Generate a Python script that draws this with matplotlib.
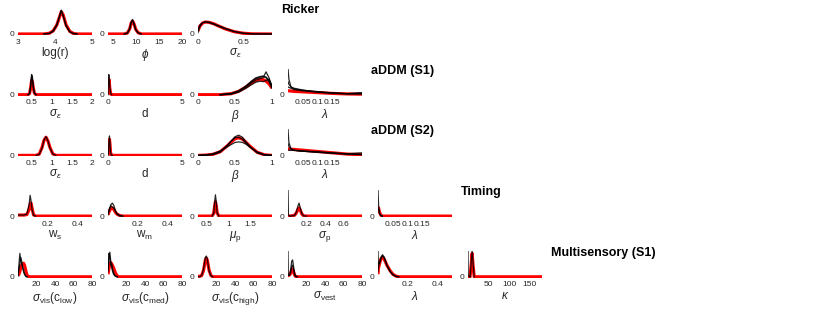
import numpy as np
import matplotlib
matplotlib.use("Agg")
import matplotlib.pyplot as plt

plt.rcParams['font.family'] = ['Liberation Sans', 'DejaVu Sans']
plt.rcParams['mathtext.fontset'] = 'custom'
plt.rcParams['mathtext.rm'] = 'Liberation Sans'
plt.rcParams['mathtext.it'] = 'Liberation Sans:italic'
plt.rcParams['mathtext.bf'] = 'Liberation Sans:bold'

# ---- data: densities (y scaled so the panel top = 1) ----
# Ricker
logr_x = [3, 3.7, 3.85, 3.95, 4.05, 4.12, 4.17, 4.22, 4.3, 4.4, 4.5, 4.6, 5]
logr_red = [0, 0, 0.03, 0.12, 0.35, 0.65, 0.86, 0.74, 0.35, 0.1, 0.02, 0, 0]
logr_black = [[0, 0, 0.02, 0.1, 0.33, 0.66, 0.92, 0.72, 0.3, 0.08, 0.01, 0, 0],
              [0, 0, 0.03, 0.13, 0.37, 0.68, 0.9, 0.7, 0.32, 0.09, 0.02, 0, 0]]

phi_x = [4, 7.5, 8.2, 8.7, 9.0, 9.3, 9.6, 10.0, 10.5, 11.2, 20]
phi_red = [0, 0, 0.04, 0.2, 0.42, 0.5, 0.4, 0.18, 0.05, 0, 0]
phi_black = [[0, 0, 0.03, 0.2, 0.45, 0.56, 0.42, 0.17, 0.04, 0, 0],
             [0, 0, 0.04, 0.22, 0.44, 0.52, 0.38, 0.16, 0.05, 0, 0]]

sige_x = [0, 0.02, 0.05, 0.08, 0.12, 0.17, 0.22, 0.3, 0.4, 0.5, 0.6, 0.82]
sige_red = [0.12, 0.3, 0.42, 0.46, 0.45, 0.4, 0.32, 0.2, 0.09, 0.03, 0.005, 0]
sige_black = [[0.05, 0.28, 0.42, 0.47, 0.46, 0.4, 0.33, 0.22, 0.1, 0.03, 0.005, 0],
              [0.15, 0.34, 0.44, 0.46, 0.44, 0.38, 0.31, 0.2, 0.09, 0.03, 0.005, 0]]

# aDDM (S1)
s1_sig_x = [0.15, 0.4, 0.44, 0.47, 0.49, 0.51, 0.53, 0.56, 0.6, 2]
s1_sig_red = [0, 0, 0.05, 0.3, 0.55, 0.5, 0.28, 0.06, 0, 0]
s1_sig_black = [[0, 0, 0.05, 0.4, 0.75, 0.7, 0.35, 0.06, 0, 0],
                [0, 0, 0.04, 0.35, 0.78, 0.6, 0.3, 0.05, 0, 0]]

s1_d_x = [0, 0.02, 0.05, 0.08, 0.12, 0.18, 0.25, 5]
s1_d_red = [0, 0.3, 0.6, 0.55, 0.25, 0.03, 0, 0]
s1_d_black = [[0, 0.35, 0.78, 0.7, 0.3, 0.05, 0, 0]]

s1_beta_x = [0, 0.3, 0.45, 0.55, 0.65, 0.72, 0.78, 0.84, 0.88, 0.92, 0.96, 1.0]
s1_beta_red = [0, 0, 0.04, 0.13, 0.3, 0.45, 0.55, 0.6, 0.58, 0.52, 0.42, 0.25]
s1_beta_black = [[0, 0, 0.03, 0.12, 0.32, 0.5, 0.62, 0.68, 0.7, 0.65, 0.5, 0.28],
                 [0, 0, 0.04, 0.14, 0.3, 0.45, 0.56, 0.62, 0.66, 0.88, 0.65, 0.3],
                 [0, 0, 0.03, 0.1, 0.25, 0.38, 0.48, 0.52, 0.5, 0.55, 0.6, 0.35],
                 [0, 0, 0.05, 0.15, 0.34, 0.52, 0.65, 0.7, 0.72, 0.68, 0.55, 0.25]]

lam_x = [0, 0.003, 0.01, 0.02, 0.05, 0.1, 0.15, 0.2, 0.25]
s1_lam_red = [0.15, 0.15, 0.14, 0.13, 0.11, 0.08, 0.05, 0.03, 0.02]
s1_lam_black = [[1.0, 0.6, 0.3, 0.22, 0.17, 0.12, 0.07, 0.04, 0.05],
                [0.5, 0.4, 0.3, 0.25, 0.18, 0.1, 0.06, 0.04, 0.08],
                [0.3, 0.28, 0.25, 0.2, 0.15, 0.1, 0.06, 0.03, 0.02]]

# aDDM (S2)
s2_sig_x = [0.15, 0.6, 0.68, 0.75, 0.8, 0.85, 0.9, 0.95, 1.02, 1.1, 2]
s2_sig_red = [0, 0, 0.05, 0.3, 0.58, 0.7, 0.55, 0.3, 0.06, 0, 0]
s2_sig_black = [[0, 0, 0.04, 0.28, 0.6, 0.72, 0.56, 0.28, 0.05, 0, 0]]

s2_d_x = [0, 0.03, 0.07, 0.1, 0.13, 0.17, 0.22, 0.3, 5]
s2_d_red = [0, 0.1, 0.5, 0.62, 0.45, 0.12, 0.01, 0, 0]
s2_d_black = [[0, 0.12, 0.6, 0.75, 0.5, 0.12, 0.01, 0, 0]]

s2_beta_x = [0, 0.1, 0.2, 0.3, 0.4, 0.45, 0.5, 0.55, 0.6, 0.65, 0.7, 0.8, 0.9, 1]
s2_beta_red = [0, 0.01, 0.04, 0.14, 0.38, 0.52, 0.64, 0.68, 0.63, 0.5, 0.36, 0.12, 0.02, 0]
s2_beta_black = [[0, 0.01, 0.03, 0.12, 0.38, 0.56, 0.72, 0.78, 0.7, 0.52, 0.34, 0.1, 0.01, 0],
                 [0, 0.02, 0.06, 0.17, 0.34, 0.42, 0.5, 0.52, 0.5, 0.43, 0.33, 0.13, 0.03, 0],
                 [0, 0.01, 0.04, 0.15, 0.4, 0.55, 0.68, 0.7, 0.62, 0.48, 0.33, 0.11, 0.02, 0]]

s2_lam_red = [0.25, 0.25, 0.24, 0.23, 0.2, 0.15, 0.1, 0.05, 0.03]
s2_lam_black = [[1.0, 0.5, 0.25, 0.2, 0.17, 0.14, 0.1, 0.06, 0.04],
                [0.45, 0.35, 0.25, 0.2, 0.16, 0.12, 0.08, 0.06, 0.1],
                [0.2, 0.2, 0.2, 0.19, 0.16, 0.13, 0.09, 0.05, 0.03]]

# Timing
ws_x = [0, 0.04, 0.06, 0.075, 0.082, 0.088, 0.095, 0.105, 0.12, 0.5]
ws_red = [0.04, 0.04, 0.06, 0.25, 0.45, 0.5, 0.3, 0.05, 0, 0]
ws_black = [[0.04, 0.04, 0.08, 0.45, 0.8, 0.6, 0.25, 0.03, 0, 0]]

wm_x = [0, 0.01, 0.02, 0.03, 0.04, 0.05, 0.06, 0.08, 0.1, 0.5]
wm_red = [0.05, 0.2, 0.3, 0.3, 0.25, 0.15, 0.08, 0.02, 0, 0]
wm_black = [[0.1, 0.3, 0.45, 0.5, 0.4, 0.2, 0.08, 0.01, 0, 0],
            [0.05, 0.25, 0.4, 0.35, 0.3, 0.2, 0.1, 0.02, 0, 0]]

mup_x = [0.3, 0.62, 0.66, 0.68, 0.7, 0.72, 0.74, 0.78, 2]
mup_red = [0, 0, 0.1, 0.35, 0.55, 0.4, 0.12, 0, 0]
mup_black = [[0, 0, 0.1, 0.5, 0.82, 0.55, 0.12, 0, 0]]

sigp_x = [0, 0.005, 0.02, 0.07, 0.09, 0.11, 0.12, 0.13, 0.15, 0.17, 0.2, 0.8]
sigp_red = [0, 0, 0, 0.03, 0.12, 0.28, 0.32, 0.25, 0.08, 0.01, 0, 0]
sigp_black = [[0, 0, 0, 0.02, 0.15, 0.42, 0.5, 0.35, 0.1, 0.01, 0, 0],
              [1.0, 0.05, 0, 0, 0, 0, 0, 0, 0, 0, 0, 0]]

tlam_x = [0, 0.002, 0.005, 0.01, 0.015, 0.02, 0.25]
tlam_red = [0.35, 0.3, 0.15, 0.03, 0, 0, 0]
tlam_black = [[1.0, 0.4, 0.1, 0.01, 0, 0, 0],
              [0.3, 0.25, 0.12, 0.02, 0, 0, 0]]

# Multisensory (S1)
vlow_x = [0, 1, 2, 3, 4, 5, 6, 7, 8, 9, 10, 12, 80]
vlow_red = [0.05, 0.1, 0.2, 0.35, 0.45, 0.5, 0.52, 0.45, 0.3, 0.15, 0.05, 0, 0]
vlow_black = [[0.05, 0.45, 0.9, 0.6, 0.5, 0.35, 0.2, 0.1, 0.04, 0.01, 0, 0, 0],
              [0.03, 0.3, 0.5, 0.75, 0.6, 0.4, 0.25, 0.12, 0.05, 0, 0, 0, 0]]

vmed_x = [0, 1, 2, 3, 4, 5, 6, 7, 8, 10, 12, 80]
vmed_red = [0.1, 0.3, 0.5, 0.55, 0.5, 0.42, 0.35, 0.25, 0.15, 0.03, 0, 0]
vmed_black = [[0.3, 0.9, 0.7, 0.45, 0.5, 0.3, 0.15, 0.08, 0.03, 0, 0, 0],
              [0.2, 0.7, 0.95, 0.6, 0.35, 0.2, 0.1, 0.05, 0.02, 0, 0, 0]]

vhigh_x = [0, 2, 4, 6, 7, 8, 9, 10, 11, 12, 14, 16, 80]
vhigh_red = [0.02, 0.02, 0.05, 0.25, 0.45, 0.65, 0.72, 0.65, 0.45, 0.25, 0.05, 0, 0]
vhigh_black = [[0, 0.01, 0.05, 0.3, 0.55, 0.75, 0.8, 0.7, 0.45, 0.22, 0.04, 0, 0]]

vest_x = [0, 0.3, 1, 2, 3, 4, 5, 6, 7, 8, 10, 80]
vest_red = [0.05, 0.05, 0.06, 0.08, 0.15, 0.28, 0.3, 0.2, 0.08, 0.02, 0, 0]
vest_black = [[0.05, 0.05, 0.06, 0.1, 0.3, 0.6, 0.65, 0.4, 0.15, 0.03, 0, 0],
              [1.0, 0.1, 0.05, 0.08, 0.2, 0.4, 0.45, 0.3, 0.1, 0.02, 0, 0]]

mlam_x = [0, 0.002, 0.01, 0.02, 0.03, 0.04, 0.05, 0.06, 0.08, 0.1, 0.12, 0.14, 0.5]
mlam_red = [0.1, 0.3, 0.5, 0.7, 0.75, 0.7, 0.58, 0.45, 0.25, 0.1, 0.03, 0, 0]
mlam_black = [[0.2, 0.35, 0.55, 0.75, 0.85, 0.78, 0.62, 0.45, 0.22, 0.08, 0.02, 0, 0],
              [1.0, 0.5, 0.5, 0.7, 0.8, 0.75, 0.6, 0.45, 0.23, 0.09, 0.02, 0, 0]]

kappa_x = [0, 0.5, 5, 8, 10, 12, 15, 180]
kappa_red = [0, 0, 0, 0.5, 0.9, 0.5, 0, 0]
kappa_black = [[0, 0, 0, 0.6, 1.0, 0.6, 0, 0],
               [1.0, 0.05, 0, 0, 0, 0, 0, 0]]

row_titles = ['Ricker', 'aDDM (S1)', 'aDDM (S2)', 'Timing', 'Multisensory (S1)']

# panel: (x, red, blacks, xlim, xticks, xticklabels, xlabel)
rows = [
    [(logr_x, logr_red, logr_black, (3, 5), [3, 4, 5], ['3', '4', '5'], 'log(r)'),
     (phi_x, phi_red, phi_black, (4, 20), [5, 10, 15, 20], ['5', '10', '15', '20'], r'$\phi$'),
     (sige_x, sige_red, sige_black, (0, 0.82), [0, 0.5], ['0', '0.5'], r'$\sigma_\epsilon$')],
    [(s1_sig_x, s1_sig_red, s1_sig_black, (0.15, 2), [0.5, 1, 1.5, 2], ['0.5', '1', '1.5', '2'], r'$\sigma_\epsilon$'),
     (s1_d_x, s1_d_red, s1_d_black, (0, 5), [0, 5], ['0', '5'], 'd'),
     (s1_beta_x, s1_beta_red, s1_beta_black, (0, 1), [0, 0.5, 1], ['0', '0.5', '1'], r'$\beta$'),
     (lam_x, s1_lam_red, s1_lam_black, (0, 0.25), [0.05, 0.1, 0.15], ['0.05', '0.1', '0.15'], r'$\lambda$')],
    [(s2_sig_x, s2_sig_red, s2_sig_black, (0.15, 2), [0.5, 1, 1.5, 2], ['0.5', '1', '1.5', '2'], r'$\sigma_\epsilon$'),
     (s2_d_x, s2_d_red, s2_d_black, (0, 5), [0, 5], ['0', '5'], 'd'),
     (s2_beta_x, s2_beta_red, s2_beta_black, (0, 1), [0, 0.5, 1], ['0', '0.5', '1'], r'$\beta$'),
     (lam_x, s2_lam_red, s2_lam_black, (0, 0.25), [0.05, 0.1, 0.15], ['0.05', '0.1', '0.15'], r'$\lambda$')],
    [(ws_x, ws_red, ws_black, (0, 0.5), [0.2, 0.4], ['0.2', '0.4'], r'w$_\mathregular{s}$'),
     (wm_x, wm_red, wm_black, (0, 0.5), [0.2, 0.4], ['0.2', '0.4'], r'w$_\mathregular{m}$'),
     (mup_x, mup_red, mup_black, (0.3, 2), [0.5, 1, 1.5], ['0.5', '1', '1.5'], r'$\mu_\mathrm{p}$'),
     (sigp_x, sigp_red, sigp_black, (0, 0.8), [0.2, 0.4, 0.6], ['0.2', '0.4', '0.6'], r'$\sigma_\mathrm{p}$'),
     (tlam_x, tlam_red, tlam_black, (0, 0.25), [0.05, 0.1, 0.15], ['0.05', '0.1', '0.15'], r'$\lambda$')],
    [(vlow_x, vlow_red, vlow_black, (0, 80), [20, 40, 60, 80], ['20', '40', '60', '80'],
      r'$\sigma_\mathrm{vis}(\mathrm{c}_\mathrm{low})$'),
     (vmed_x, vmed_red, vmed_black, (0, 80), [20, 40, 60, 80], ['20', '40', '60', '80'],
      r'$\sigma_\mathrm{vis}(\mathrm{c}_\mathrm{med})$'),
     (vhigh_x, vhigh_red, vhigh_black, (0, 80), [20, 40, 60, 80], ['20', '40', '60', '80'],
      r'$\sigma_\mathrm{vis}(\mathrm{c}_\mathrm{high})$'),
     (vest_x, vest_red, vest_black, (0, 80), [20, 40, 60, 80], ['20', '40', '60', '80'],
      r'$\sigma_\mathrm{vest}$'),
     (mlam_x, mlam_red, mlam_black, (0, 0.5), [0.2, 0.4], ['0.2', '0.4'], r'$\lambda$'),
     (kappa_x, kappa_red, kappa_black, (0, 180), [50, 100, 150], ['50', '100', '150'], r'$\kappa$')],
]

W, H = 830, 313
fig = plt.figure(figsize=(W / 100, H / 100), dpi=100)

ax_w, ax_h = 74, 27
ymin = -0.04

for r, panels in enumerate(rows):
    base = 34 + 60.7 * r            # pixel row of the zero line
    bottom = base + (-ymin) / (1 - ymin) * ax_h
    for c, (x, red, blacks, xl, xt, xtl, xlab) in enumerate(panels):
        left = 18 + 90 * c
        ax = fig.add_axes([left / W, 1 - bottom / H, ax_w / W, ax_h / H])
        x = np.asarray(x, float)
        ax.plot(x, red, color='#ff0000', lw=2.3, solid_capstyle='butt', zorder=2)
        for b in blacks:
            b = np.asarray(b, float)
            keep = b > 0
            keep[1:] |= b[:-1] > 0
            keep[:-1] |= b[1:] > 0
            yb = np.where(keep, b, np.nan)
            ax.plot(x, yb, color='black', lw=0.9, alpha=0.85, zorder=3)
        ax.set_xlim(*xl)
        ax.set_ylim(ymin, 1)
        ax.set_xticks(xt)
        ax.set_xticklabels(xtl)
        ax.set_yticks([0])
        ax.set_yticklabels(['0'])
        for s in ax.spines.values():
            s.set_visible(False)
        ax.tick_params(length=0, labelsize=6, colors='#262626', pad=2.5)
        ax.set_xlabel(xlab, fontsize=8.5, color='#262626', labelpad=1)
    tx = 18 + 90 * len(panels) - 7
    fig.text(tx / W, 1 - (base - 24) / H, row_titles[r], fontsize=9, fontweight='bold',
             ha='left', va='center')

fig.savefig('out.png', dpi=100)
